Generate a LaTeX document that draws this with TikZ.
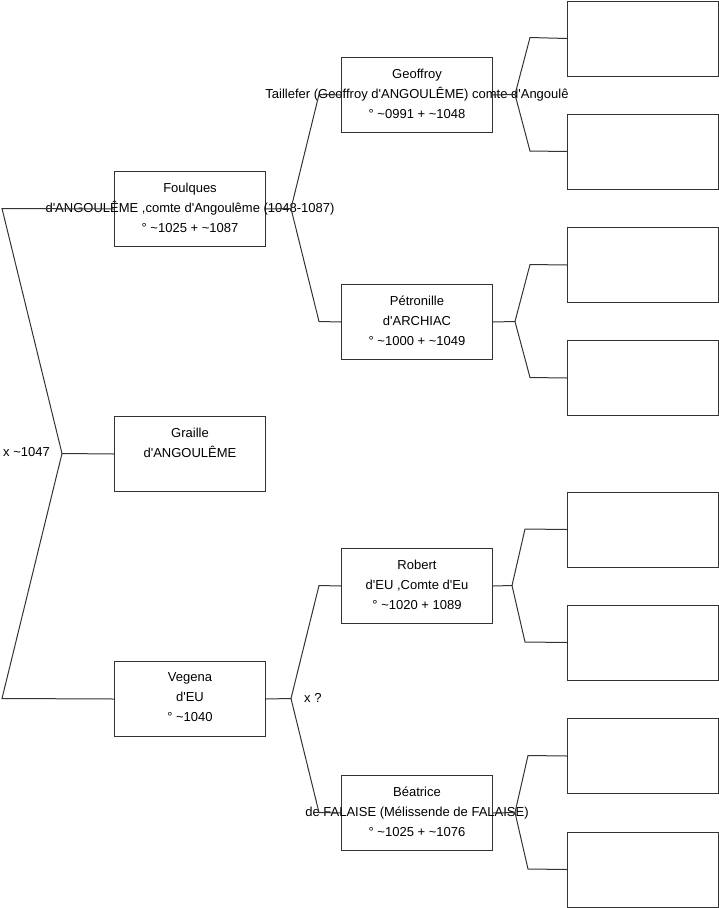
\documentclass[tikz,border=0pt]{standalone}
\usepackage{fontspec}
\setmainfont{Liberation Sans}
\newcommand{\ap}{\textquotesingle}
\newcommand{\tl}{\textasciitilde}
\begin{document}
\begin{tikzpicture}[x=1pt,y=-1pt,
  pbox/.style={draw=black!80, line width=1pt, minimum width=151pt, minimum height=75pt, inner sep=0pt, anchor=north west},
  ptext/.style={anchor=north, align=center, inner sep=0pt, font=\fontsize{13}{20}\selectfont},
  lbl/.style={anchor=west, inner sep=0pt, font=\fontsize{13}{15}\selectfont},
  conn/.style={draw=black!80, line width=1pt}]
\useasboundingbox (0,0) rectangle (719,908);
% person boxes
\node[pbox] (foulques) at (114,171) {};
\node[pbox] (graille) at (114,416) {};
\node[pbox] (vegena) at (114,661) {};
\node[pbox] (geoffroy) at (341,57) {};
\node[pbox] (petronille) at (341,284) {};
\node[pbox] (robert) at (341,548) {};
\node[pbox] (beatrice) at (341,775) {};
% empty boxes
\node[pbox] (e1) at (567,0.5) {};
\node[pbox] (e2) at (567,113.5) {};
\node[pbox] (e3) at (567,227) {};
\node[pbox] (e4) at (567,340) {};
\node[pbox] (e5) at (567,491.5) {};
\node[pbox] (e6) at (567,604.5) {};
\node[pbox] (e7) at (567,718) {};
\node[pbox] (e8) at (567,831.5) {};
% texts
\node[ptext] (tfoulques) at ([yshift=-11.5pt]foulques.north) {Foulques\\d\ap ANGOULÊME ,comte d\ap Angoulême (1048-1087)\\° \tl1025 + \tl1087};
\node[ptext] (tgraille) at ([yshift=-11.5pt]graille.north) {Graille\\d\ap ANGOULÊME};
\node[ptext] (tvegena) at ([yshift=-11.5pt]vegena.north) {Vegena\\d\ap EU\\° \tl1040};
\node[ptext] (tgeoffroy) at ([yshift=-11.5pt]geoffroy.north) {Geoffroy\\Taillefer (Geoffroy d\ap ANGOULÊME) comte d\ap Angoulê\\° \tl0991 + \tl1048};
\node[ptext] (tpetronille) at ([yshift=-11.5pt]petronille.north) {Pétronille\\d\ap ARCHIAC\\° \tl1000 + \tl1049};
\node[ptext] (trobert) at ([yshift=-11.5pt]robert.north) {Robert\\d\ap EU ,Comte d\ap Eu\\° \tl1020 + 1089};
\node[ptext] (tbeatrice) at ([yshift=-11.5pt]beatrice.north) {Béatrice\\de FALAISE (Mélissende de FALAISE)\\° \tl1025 + \tl1076};
% left fork
\coordinate (lt) at (2,208.5);
\coordinate (lm) at (62,453.5);
\coordinate (lb) at (2,698.5);
\draw[conn] (foulques.west) -- (lt) -- (lm) -- (lb) -- (vegena.west);
\draw[conn] (lm) -- (graille.west);
\node[lbl] (xl) at (3,452.5) {x \tl1047};
% Foulques fork
\coordinate (fj) at (291,208.5);
\coordinate (ft) at (319,94.5);
\coordinate (fb) at (319,321.5);
\draw[conn] (foulques.east) -- (fj) -- (ft) -- (geoffroy.west);
\draw[conn] (fj) -- (fb) -- (petronille.west);
% Vegena fork
\coordinate (vj) at (291,698.5);
\coordinate (vt) at (319,585.5);
\coordinate (vb) at (319,812.5);
\draw[conn] (vegena.east) -- (vj) -- (vt) -- (robert.west);
\draw[conn] (vj) -- (vb) -- (beatrice.west);
\node[lbl] (xq) at (304,697.5) {x ?};
% right forks
\coordinate (gj) at (515,94.5);
\coordinate (gt) at (530,37.5);
\coordinate (gb) at (530,151);
\draw[conn] (geoffroy.east) -- (gj) -- (gt) -- (e1.west);
\draw[conn] (gj) -- (gb) -- (e2.west);
\coordinate (pj) at (515,321.5);
\coordinate (pt) at (530,264.5);
\coordinate (pb) at (530,377.5);
\draw[conn] (petronille.east) -- (pj) -- (pt) -- (e3.west);
\draw[conn] (pj) -- (pb) -- (e4.west);
\coordinate (rj) at (512,585.5);
\coordinate (rt) at (525,529);
\coordinate (rb) at (525,642);
\draw[conn] (robert.east) -- (rj) -- (rt) -- (e5.west);
\draw[conn] (rj) -- (rb) -- (e6.west);
\coordinate (bj) at (515,812.5);
\coordinate (bt) at (528,755.5);
\coordinate (bb) at (528,869);
\draw[conn] (beatrice.east) -- (bj) -- (bt) -- (e7.west);
\draw[conn] (bj) -- (bb) -- (e8.west);
\end{tikzpicture}
\end{document}
